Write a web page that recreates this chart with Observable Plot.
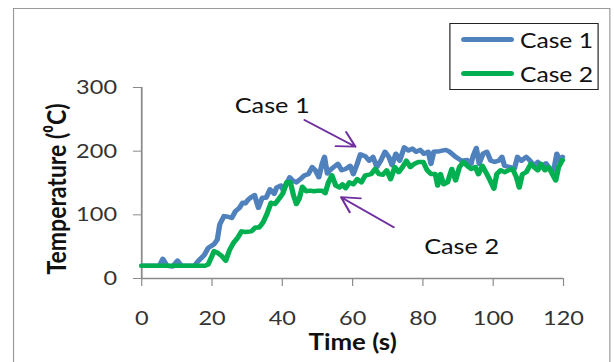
<!DOCTYPE html>
<html>
<head>
<meta charset="utf-8">
<script src="https://cdn.jsdelivr.net/npm/d3@7"></script>
<script src="https://cdn.jsdelivr.net/npm/@observablehq/plot@0.6"></script>
<style>
  html, body { margin: 0; padding: 0; background: #fff; overflow: hidden; width: 614px; height: 362px; }
  #stage { position: absolute; left: 0; top: 0; width: 522px; height: 362px; transform: scaleX(1.1762); transform-origin: 0 0; font-family: Lato, "Open Sans", sans-serif; }
  #frame { position: absolute; left: 11px; top: 8px; width: 508px; height: 400px; border: 1.5px solid #9a9a9a; box-sizing: border-box; }
  #chart { position: absolute; left: 0; top: 0; }
  #legend { position: absolute; left: 382px; top: 23px; width: 127px; height: 67px; border: 1.5px solid #222; box-sizing: border-box; background: #fff; }
  .item { position: absolute; left: 9px; height: 24px; display: flex; align-items: center; font-size: 21px; color: #111; }
  .swatch { display: inline-block; width: 45px; height: 5px; border-radius: 3px; margin-right: 5px; }
</style>
</head>
<body>
<div id="stage">
  <div id="frame"></div>
  <div id="chart"></div>
  <div id="legend"></div>
</div>
<script>
const series = ["Case 1", "Case 2"];
const colors = ["#4F81BD", "#00B050"];
const xTicks = [0, 20, 40, 60, 80, 100, 120];
const yTicks = [0, 100, 200, 300];

const time1 = [0,5,6,7.2,8.8,10.2,11.3,15,16,17.8,18.9,20.6,21.5,22.2,23.4,24.5,25.6,26.7,27.8,28.7,29.5,30.3,31.2,32.1,33.2,34.3,35.4,36.5,37.7,38.4,39.6,40.3,42.1,42.9,44,45.1,46.3,47.4,48.5,49.4,50.4,51.3,52,52.8,53.5,54.6,55.8,56.9,58,59.3,60.2,61.3,62.2,63.6,64.7,65.8,66.9,68,69.2,70.3,71.2,72.3,73.4,74.7,75.9,77,78.1,79.2,80.3,81.5,82.3,83.1,84.8,86.5,87.6,89.3,91,92.6,93.7,94.3,95.2,96,97.1,98.2,99.3,100.4,101.6,102.5,103.2,104.9,106,106.9,108,109.4,110.5,111.6,112.7,113.9,115,116.1,117.2,118.1,118.9,119.7];
const temp1 = [20,20,31,20,19,28,20,20,27,37,48,54,61,85,98,97,95,106,111,119,118,124,128,131,111,127,127,140,133,143,146,138,159,154,151,156,162,164,175,170,159,180,191,165,170,175,180,170,172,177,164,180,195,192,185,191,175,185,199,191,178,196,185,206,201,204,199,202,196,199,180,199,200,202,199,191,185,186,180,193,205,180,196,199,185,183,185,191,177,175,172,191,185,191,185,177,183,175,181,172,170,196,185,191];

const time2 = [0,18,18.9,20.6,21.7,22.8,23.9,25,26.1,27.3,28.4,29.5,31.2,32.3,33.4,34.5,35.6,36.8,37.9,39,40.1,41.2,42.3,43.2,44,44.8,45.7,46.8,47.9,49,50.2,51.3,52.2,53.1,54.1,55.2,56.3,57.1,58,59.1,60.2,61.3,62.5,63.6,65.3,66.4,67.5,68.6,69.7,70.8,72,73.1,74.2,75.3,76.4,77.5,78.7,80.1,81.2,82.3,83.5,84.2,85,85.9,87,88.2,89.3,90.4,91.5,92.6,93.7,94.9,95.8,96.9,98.2,99.1,100.2,101,102.1,103.2,104.4,105.5,106.6,107.4,108.3,109.4,110.7,111.6,112.7,113.6,114.7,115.8,117,117.8,118.6,119.7];
const temp2 = [20,20,22,43,40,35,28,45,56,64,74,73,74,80,80,88,101,119,117,125,133,151,151,130,117,125,144,137,138,137,138,138,134,151,162,146,143,148,142,151,148,156,151,162,164,172,164,163,170,156,175,167,175,185,175,180,183,183,170,164,164,146,164,148,151,172,154,175,183,177,172,175,164,177,164,154,141,164,170,167,170,172,159,143,164,167,180,175,170,180,170,175,162,154,175,186];

const noteLabels = ["Case 1", "Case 2"];
const noteTime = [37.1, 91];
const noteTemp = [270, 48.7];
const arrowFromTime = [46.3, 71.7];
const arrowFromTemp = [249, 80.6];
const arrowToTime = [60.8, 56.7];
const arrowToTemp = [207, 127.7];

const rows = [
  ...time1.map((t, i) => ({t, T: temp1[i], s: series[0]})),
  ...time2.map((t, i) => ({t, T: temp2[i], s: series[1]}))
];
const notes = noteLabels.map((label, i) => ({label, t: noteTime[i], T: noteTemp[i]}));
const arrows = arrowFromTime.map((_, i) => ({t1: arrowFromTime[i], T1: arrowFromTemp[i], t2: arrowToTime[i], T2: arrowToTemp[i]}));

const chart = Plot.plot({
  width: 522,
  height: 362,
  marginLeft: 120,
  marginRight: 43.4,
  marginTop: 87,
  marginBottom: 84,
  style: {fontFamily: "Lato, 'Open Sans', sans-serif", background: "transparent"},
  x: {domain: [0, 120]},
  y: {domain: [0, 300]},
  color: {domain: series, range: colors},
  marks: [
    Plot.axisX({ticks: xTicks, tickSize: 8, tickPadding: 24, fontSize: 20, label: null, stroke: "#8a8a8a", fill: "#333", tickFormat: d => String(d)}),
    Plot.axisY({ticks: yTicks, tickSize: 7, tickPadding: 14, fontSize: 20, label: null, stroke: "#8a8a8a", fill: "#333", tickFormat: d => String(d)}),
    Plot.ruleX([0], {stroke: "#8a8a8a", strokeWidth: 1.5}),
    Plot.ruleY([0], {stroke: "#8a8a8a", strokeWidth: 1.5}),
    Plot.line(rows, {x: "t", y: "T", z: "s", stroke: "s", strokeWidth: 4.5, strokeLinejoin: "round", strokeLinecap: "round"}),
    Plot.arrow(arrows, {x1: "t1", y1: "T1", x2: "t2", y2: "T2", stroke: "#7030A0", strokeWidth: 1.8, headLength: 14}),
    Plot.text(notes, {x: "t", y: "T", text: "label", fontSize: 21.5, fill: "#111"}),
    Plot.text(["Time (s)"], {frameAnchor: "bottom", dy: 71, fontSize: 22, fontWeight: "bold", fill: "#111"}),
    Plot.text(["Temperature (⁰C)"], {frameAnchor: "left", textAnchor: "middle", rotate: -90, dx: -72, dy: 6, fontSize: 23, fontWeight: "bold", fill: "#111"})
  ]
});
document.getElementById("chart").appendChild(chart);

const legend = document.getElementById("legend");
series.forEach((name, i) => {
  const item = document.createElement("div");
  item.className = "item";
  item.style.top = (3 + i * 34) + "px";
  const sw = document.createElement("span");
  sw.className = "swatch";
  sw.style.background = colors[i];
  item.appendChild(sw);
  item.appendChild(document.createTextNode(name));
  legend.appendChild(item);
});
</script>
</body>
</html>
